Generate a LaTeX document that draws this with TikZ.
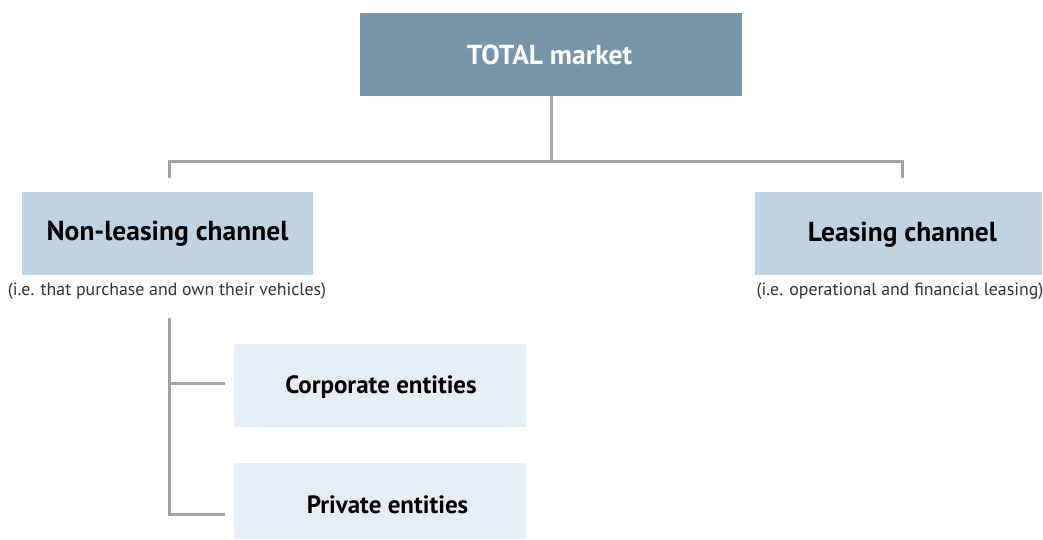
\documentclass[tikz,border=0pt]{standalone}
\usepackage{fontspec}
\setmainfont{PT Sans}
\definecolor{topc}{HTML}{7695AA}
\definecolor{midc}{HTML}{C0D3E2}
\definecolor{lowc}{HTML}{E6EEF5}
\definecolor{linec}{HTML}{A3A3A3}
\begin{document}
\begin{tikzpicture}[x=1pt,y=-1pt,
  box/.style={draw=none,minimum height=83pt,inner sep=0pt,font=\fontsize{27.5}{30}\selectfont\bfseries},
  lowbox/.style={box,fill=lowc,minimum width=292pt,font=\fontsize{25}{28}\selectfont\bfseries},
  conn/.style={draw=linec,line width=3pt},
  note/.style={font=\fontsize{17.8}{20}\selectfont,text=black!80,inner sep=0pt}]
\useasboundingbox (0,0) rectangle (1043,539);
\node[box,fill=topc,minimum width=382pt] (total) at (551,54.5) {};
\node[text=white,font=\fontsize{27.5}{30}\selectfont\bfseries,inner sep=0pt] (totalt) at (549.5,54.5) {TOTAL market};
\node[box,fill=midc,minimum width=291pt] (nonl) at (167.5,233.5) {Non-leasing channel};
\node[box,fill=midc,minimum width=287pt] (leas) at (898.5,233.5) {};
\node[font=\fontsize{27.5}{30}\selectfont\bfseries,inner sep=0pt] (least) at (902.5,234.5) {Leasing channel};
\node[note] (nonlnote) at (167,291) {(i.e. that purchase and own their vehicles)};
\node[note] (leasnote) at (900,291) {(i.e. operational and financial leasing)};
\node[lowbox] (corp) at (380,385.5) {};
\node[font=\fontsize{25}{28}\selectfont\bfseries,inner sep=0pt] (corpt) at (381,387) {Corporate entities};
\node[lowbox,minimum height=76pt] (priv) at (380,501) {};
\node[font=\fontsize{25}{28}\selectfont\bfseries,inner sep=0pt] (privt) at (387.5,505) {Private entities};
\coordinate (hub) at (total.south |- 0,161);
\coordinate (lt) at (169,161);
\coordinate (rt) at (902,161);
\coordinate (lb) at (169,178);
\coordinate (rb) at (902,178);
\coordinate (tt) at (169,318);
\coordinate (c1) at (225,383);
\coordinate (c2) at (225,514);
\draw[conn] (total.south) -- (hub);
\draw[conn] (lb) -- (lt) -- (rt) -- (rb);
\draw[conn] (tt) |- (c2);
\draw[conn] (tt |- c1) -- (c1);
\end{tikzpicture}
\end{document}
